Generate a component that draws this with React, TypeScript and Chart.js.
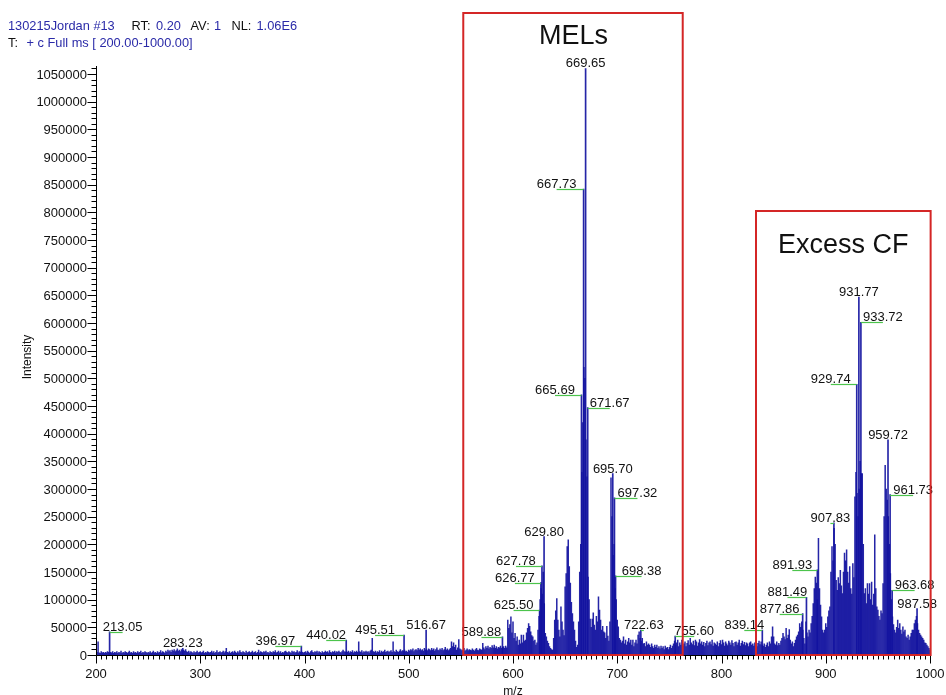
import React, { useEffect, useRef } from 'react';
import { Chart, registerables } from 'chart.js';

Chart.register(...registerables);

// ---------- DATA (intensities in thousands of counts) ----------
// Profile sticks, one per integer m/z, each array starts at the m/z in its name
const bulk200 = [
  3, 5, 24, 4, 3, 6, 4, 5, 3, 5,
  4, 6, 5, 3, 5, 4, 6, 3, 5, 4,
  6, 3, 5, 4, 7, 3, 5, 4, 6, 5,
  3, 5, 7, 4, 5, 3, 6, 4, 5, 3,
  6, 4, 5, 7, 3, 5, 4, 6, 5, 3,
  5, 4, 6, 3, 5, 7, 4, 5, 3, 6,
  4, 5, 8, 4, 6, 5, 3, 7, 5, 9,
  6, 8, 5, 9, 7, 10, 6, 8, 11, 7,
  9, 6, 10, 8, 9, 7, 10, 6, 5, 7,
  4, 6, 5, 3, 6, 4, 5, 7, 4, 5,
];
const bulk300 = [
  6, 4, 5, 7, 3, 5, 4, 6, 5, 4,
  5, 7, 4, 6, 3, 5, 8, 4, 5, 6,
  4, 5, 7, 4, 6, 12, 5, 4, 6, 3,
  5, 6, 4, 7, 5, 3, 6, 4, 8, 5,
  4, 6, 5, 3, 7, 4, 5, 6, 4, 5,
  7, 4, 5, 6, 3, 5, 9, 4, 6, 5,
  4, 6, 5, 7, 4, 5, 3, 6, 5, 4,
  6, 5, 8, 4, 5, 7, 4, 6, 3, 5,
  4, 6, 7, 5, 4, 6, 5, 3, 7, 5,
  6, 4, 5, 8, 4, 6, 5, 7, 5, 4,
];
const bulk400 = [
  5, 6, 4, 7, 5, 3, 6, 8, 5, 4,
  6, 5, 7, 4, 6, 5, 3, 6, 4, 5,
  7, 5, 6, 4, 8, 5, 4, 6, 5, 7,
  4, 6, 5, 7, 5, 4, 6, 9, 6, 5,
  6, 5, 7, 4, 6, 5, 8, 4, 6, 5,
  7, 5, 24, 6, 5, 8, 4, 6, 5, 7,
  5, 6, 4, 7, 9, 30, 6, 5, 7, 4,
  6, 5, 8, 4, 7, 5, 6, 9, 5, 6,
  7, 5, 6, 8, 5, 24, 6, 5, 9, 6,
  5, 7, 10, 6, 8, 7, 9, 6, 7, 5,
];
const bulk500 = [
  9, 7, 10, 8, 11, 6, 9, 10, 8, 12,
  9, 11, 8, 10, 7, 12, 9, 10, 8, 11,
  10, 8, 12, 9, 11, 7, 10, 13, 9, 8,
  11, 9, 12, 8, 10, 14, 9, 11, 8, 10,
  12, 24, 15, 22, 14, 18, 9, 13, 28, 11,
  10, 8, 9, 12, 7, 9, 11, 8, 10, 9,
  8, 11, 9, 7, 10, 12, 9, 8, 11, 10,
  9, 21, 13, 10, 15, 12, 16, 11, 14, 12,
  17, 13, 18, 12, 15, 11, 14, 13, 16, 12,
  14, 15, 12, 16, 13, 63, 48, 55, 69, 40,
];
const bulk600 = [
  60, 30, 39, 25, 33, 18, 27, 20, 36, 22,
  36, 25, 27, 40, 48, 57, 52, 42, 35, 33,
  25, 27, 18, 22, 45, 70, 100, 120, 110, 150,
  93, 39, 33, 25, 21, 15, 12, 10, 9, 30,
  63, 80, 102, 63, 45, 33, 87, 60, 45, 35,
  123, 147, 196, 208, 160, 130, 95, 75, 60, 45,
  25, 14, 18, 60, 150, 200, 330, 420, 520, 500,
  389, 322, 141, 100, 65, 50, 65, 76, 54, 45,
  70, 60, 105, 81, 63, 45, 52, 42, 40, 30,
  52, 34, 25, 60, 320, 250, 180, 200, 120, 100,
];
const bulk700 = [
  63, 51, 30, 27, 22, 25, 33, 20, 27, 18,
  24, 30, 22, 27, 18, 27, 15, 22, 27, 20,
  36, 42, 30, 25, 30, 20, 21, 15, 24, 18,
  20, 18, 14, 20, 15, 12, 18, 14, 18, 12,
  15, 11, 16, 12, 15, 10, 16, 12, 14, 10,
  14, 18, 12, 16, 20, 25, 18, 22, 27, 15,
  22, 18, 27, 16, 20, 24, 15, 21, 26, 18,
  30, 22, 19, 25, 17, 27, 24, 16, 22, 28,
  20, 24, 18, 23, 15, 21, 25, 17, 22, 24,
  19, 27, 16, 22, 20, 18, 24, 15, 21, 26,
];
const bulk800 = [
  19, 27, 22, 16, 24, 20, 17, 25, 22, 18,
  26, 21, 15, 23, 24, 18, 22, 27, 16, 21,
  25, 19, 23, 17, 22, 20, 15, 22, 24, 18,
  20, 16, 22, 18, 15, 21, 25, 19, 24, 18,
  16, 20, 14, 18, 22, 15, 24, 20, 33, 51,
  33, 20, 18, 24, 17, 21, 18, 25, 30, 39,
  33, 28, 48, 30, 36, 46, 27, 20, 24, 15,
  21, 27, 33, 36, 42, 57, 50, 60, 45, 30,
  20, 60, 40, 33, 45, 40, 57, 70, 93, 120,
  141, 130, 100, 211, 120, 90, 69, 45, 40, 45,
];
const bulk900 = [
  57, 50, 69, 80, 87, 150, 196, 170, 229, 200,
  135, 117, 140, 129, 153, 125, 111, 150, 184, 170,
  190, 150, 130, 160, 120, 110, 165, 140, 286, 330,
  292, 250, 300, 350, 328, 328, 200, 111, 120, 93,
  129, 110, 129, 100, 132, 90, 110, 217, 120, 87,
  81, 70, 63, 80, 75, 129, 250, 343, 300, 280,
  250, 200, 147, 100, 69, 55, 45, 40, 50, 63,
  48, 57, 45, 38, 51, 42, 45, 33, 30, 36,
  27, 33, 39, 45, 45, 57, 63, 70, 57, 45,
  39, 36, 33, 30, 27, 22, 21, 18, 15, 12, 9,
];
const bulkStarts = [200, 300, 400, 500, 600, 700, 800, 900];
const bulkBlocks = [bulk200, bulk300, bulk400, bulk500, bulk600, bulk700, bulk800, bulk900];

// Labelled peaks
const peakMz = [
  213.05, 283.23, 396.97, 440.02, 495.51, 516.67, 589.88, 625.5, 626.77, 627.78,
  629.8, 665.69, 667.73, 669.65, 671.67, 695.7, 697.32, 698.38, 722.63, 755.6,
  839.14, 877.86, 881.49, 891.93, 907.83, 929.74, 931.77, 933.72, 959.72, 961.73,
  963.68, 987.58,
];
const peakIntensity = [
  42, 12, 16, 27, 36, 45, 33, 81, 131, 161,
  214, 470, 842, 1060, 447, 328, 284, 143, 45, 34,
  45, 75, 104, 154, 239, 489, 647, 601, 389, 290,
  117, 84,
];

const xTicks = [200, 300, 400, 500, 600, 700, 800, 900, 1000];
const yTicks = [
  0, 50000, 100000, 150000, 200000, 250000, 300000, 350000, 400000, 450000, 500000,
  550000, 600000, 650000, 700000, 750000, 800000, 850000, 900000, 950000, 1000000, 1050000,
];

// ---------- LAYOUT / STYLE ----------
// horizontal offset (px) of each peak label's centre from its peak
const labelDx = [
  13, 0, -26, -20, -29, 0, -21, -26, -26, -26,
  0, -26.5, -27, 0, 22, 0, 23, 26, 3, 19,
  -18, -23, -19, -25, -3.5, -26, 0, 22, 0, 23,
  22.5, 0,
];

const FONT = '"Liberation Sans", Arial, Helvetica, sans-serif';
const BAR = 'rgba(18,18,160,0.92)';
const BLUE_TXT = '#2a2aa8';
const BLACK = '#111111';
const GREEN = '#4cc44c';
const RED = '#d42626';

function buildBulk() {
  const pts: { x: number; y: number }[] = [];
  bulkBlocks.forEach((block, b) => {
    block.forEach((v, i) => pts.push({ x: bulkStarts[b] + i, y: v * 1000 }));
  });
  return pts;
}

function buildPeaks() {
  return peakMz.map((m, i) => ({ x: m, y: peakIntensity[i] * 1000 }));
}

export default function App() {
  const ref = useRef<HTMLCanvasElement | null>(null);

  useEffect(() => {
    const canvas = ref.current;
    if (!canvas) return;

    const overlay = {
      id: 'msOverlay',
      afterDatasetsDraw(chart: any) {
        const ctx = chart.ctx as CanvasRenderingContext2D;
        const xs = chart.scales.x;
        const ys = chart.scales.y;
        const a = chart.chartArea;
        ctx.save();

        // axes
        ctx.strokeStyle = '#000';
        ctx.lineWidth = 1;
        const ax = Math.round(a.left) + 0.5;
        const ay = Math.round(a.bottom) + 0.5;
        ctx.beginPath();
        ctx.moveTo(ax, Math.round(a.top));
        ctx.lineTo(ax, ay);
        ctx.lineTo(Math.round(a.right) + 1, ay);
        ctx.stroke();

        // y ticks
        ctx.beginPath();
        for (let v = 0; v <= 1060000; v += 10000) {
          const y = Math.round(ys.getPixelForValue(v)) + 0.5;
          const len = v % 50000 === 0 ? 9 : 5;
          ctx.moveTo(ax - len, y);
          ctx.lineTo(ax, y);
        }
        // x ticks
        for (let v = 200; v <= 1000; v += 5) {
          const x = Math.round(xs.getPixelForValue(v)) + 0.5;
          const len = v % 100 === 0 ? 8 : 4;
          ctx.moveTo(x, ay);
          ctx.lineTo(x, ay + len);
        }
        ctx.stroke();

        // tick labels
        ctx.fillStyle = BLACK;
        ctx.font = `13px ${FONT}`;
        ctx.textAlign = 'right';
        ctx.textBaseline = 'alphabetic';
        yTicks.forEach((v) => {
          const y = ys.getPixelForValue(v);
          ctx.fillText(String(v), a.left - 9, y + 4.8);
        });
        ctx.textAlign = 'center';
        xTicks.forEach((v) => {
          ctx.fillText(String(v), xs.getPixelForValue(v), 678);
        });

        // axis titles
        ctx.font = `12px ${FONT}`;
        ctx.fillText('m/z', (a.left + a.right) / 2, 695);
        ctx.save();
        ctx.translate(31, 357);
        ctx.rotate(-Math.PI / 2);
        ctx.textBaseline = 'alphabetic';
        ctx.fillText('Intensity', 0, 0);
        ctx.restore();

        // peak labels
        ctx.font = `13px ${FONT}`;
        ctx.textAlign = 'center';
        peakMz.forEach((m, i) => {
          const px = xs.getPixelForValue(m);
          const py = ys.getPixelForValue(peakIntensity[i] * 1000);
          const dx = labelDx[i];
          if (Math.abs(dx) > 1) {
            ctx.strokeStyle = GREEN;
            ctx.lineWidth = 1.2;
            ctx.beginPath();
            ctx.moveTo(px, Math.round(py) + 0.5);
            ctx.lineTo(px + dx, Math.round(py) + 0.5);
            ctx.stroke();
          }
          ctx.fillStyle = BLACK;
          ctx.fillText(m.toFixed(2), px + dx, py - 1);
        });

        // red boxes
        ctx.strokeStyle = RED;
        ctx.lineWidth = 2;
        const b1l = xs.getPixelForValue(552.3);
        const b1r = xs.getPixelForValue(762.8);
        ctx.strokeRect(b1l, 13, b1r - b1l, a.bottom - 13);
        const b2l = xs.getPixelForValue(833.1);
        const b2r = xs.getPixelForValue(1000.6);
        ctx.strokeRect(b2l, 211, b2r - b2l, a.bottom - 211);

        ctx.fillStyle = BLACK;
        ctx.font = `27px ${FONT}`;
        ctx.textAlign = 'center';
        ctx.fillText('MELs', (b1l + b1r) / 2 + 0.5, 44);
        ctx.fillText('Excess CF', (b2l + b2r) / 2, 253);

        // header
        ctx.font = `12.8px ${FONT}`;
        ctx.textAlign = 'left';
        const line1: [string, string, number][] = [
          ['130215Jordan #13', BLUE_TXT, 8],
          ['RT:', BLACK, 131.5],
          ['0.20', BLUE_TXT, 156],
          ['AV:', BLACK, 190.5],
          ['1', BLUE_TXT, 214],
          ['NL:', BLACK, 231.5],
          ['1.06E6', BLUE_TXT, 256.5],
        ];
        line1.forEach(([t, c, x]) => {
          ctx.fillStyle = c;
          ctx.fillText(t, x, 29.5);
        });
        const line2: [string, string, number][] = [
          ['T:', BLACK, 8],
          ['+ c Full ms [ 200.00-1000.00]', BLUE_TXT, 26.5],
        ];
        line2.forEach(([t, c, x]) => {
          ctx.fillStyle = c;
          ctx.fillText(t, x, 47);
        });

        ctx.restore();
      },
    };

    const chart = new Chart(canvas, {
      type: 'bar',
      data: {
        datasets: [
          {
            data: buildBulk(),
            backgroundColor: BAR,
            borderWidth: 0,
            barThickness: 0.85,
            grouped: false,
          } as any,
          {
            data: buildPeaks(),
            backgroundColor: BAR,
            borderWidth: 0,
            barThickness: 1,
            grouped: false,
          } as any,
        ],
      },
      options: {
        animation: false,
        responsive: false,
        devicePixelRatio: 1,
        layout: { padding: { left: 0, right: 16, top: 65.7, bottom: 0 } },
        plugins: {
          legend: { display: false },
          tooltip: { enabled: false },
          title: { display: false },
        },
        scales: {
          x: {
            type: 'linear',
            min: 200,
            max: 1000,
            offset: false,
            ticks: { display: false },
            grid: { display: false },
            border: { display: false },
            afterFit: (s: any) => {
              s.height = 40;
            },
          },
          y: {
            type: 'linear',
            min: 0,
            max: 1065000,
            ticks: { display: false },
            grid: { display: false },
            border: { display: false },
            afterFit: (s: any) => {
              s.width = 96;
            },
          },
        },
      } as any,
      plugins: [overlay],
    });

    return () => chart.destroy();
  }, []);

  return (
    <div style={{ position: 'absolute', left: 0, top: 0, width: 946, height: 695, background: '#fff' }}>
      <canvas ref={ref} width={946} height={695} style={{ display: 'block' }} />
    </div>
  );
}
